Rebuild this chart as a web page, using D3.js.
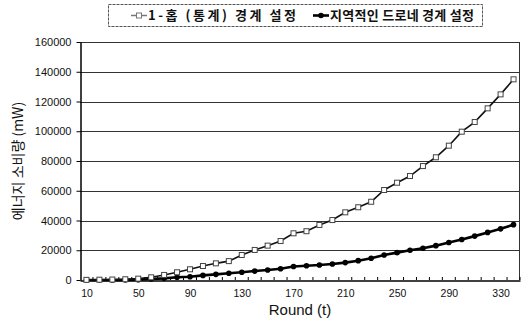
<!DOCTYPE html>
<html>
<head>
<meta charset="utf-8">
<script src="https://cdn.jsdelivr.net/npm/d3@7/dist/d3.min.js"></script>
<style>
  body, html { margin: 0; padding: 0; background: #fff; }
  svg { display: block; }
  .tick text { font-family: "Liberation Sans", Arial, sans-serif; fill: #111; }
  .ko { font-family: "Noto Sans CJK KR", sans-serif; fill: #111; }
</style>
</head>
<body>
<svg width="521" height="320"></svg>
<script>
  // rounds 10..340
  var rounds = [10, 20, 30, 40, 50, 60, 70, 80, 90, 100, 110, 120, 130, 140, 150, 160, 170,
                180, 190, 200, 210, 220, 230, 240, 250, 260, 270, 280, 290, 300, 310, 320, 330, 340];

  // 1-hop boundary setting (hollow squares)
  var hopValues = [100, 200, 300, 500, 900, 1800, 3400, 5200, 7200, 9400, 11200, 12700, 16800,
                   20200, 23100, 26200, 31400, 32800, 37000, 40300, 45500, 48900, 52600, 60500,
                   65400, 69900, 76600, 82500, 90300, 99700, 106200, 115400, 124800, 134900];

  // local Delaunay boundary setting (filled dots)
  var delaunayValues = [0, 0, 50, 100, 200, 700, 1100, 1800, 2200, 3100, 3800, 4500, 5200,
                        6000, 6700, 7600, 9100, 9600, 10100, 10800, 11700, 13000, 14600, 16800,
                        18400, 20000, 21300, 23100, 25200, 27200, 29500, 32000, 34400, 37200];

  var xTickLabels = [10, 50, 90, 130, 170, 210, 250, 290, 330];
  var yTickValues = [0, 20000, 40000, 60000, 80000, 100000, 120000, 140000, 160000];

  var seriesNames = ['1-홉 (통계) 경계 설정', '지역적인 드로네 경계 설정'];

  var svg = d3.select('svg');
  var plotLeft = 80, plotRight = 520, plotTop = 42, plotBottom = 280;

  var x = d3.scalePoint().domain(rounds).range([plotLeft, plotRight]).padding(0.5);
  var y = d3.scaleLinear().domain([0, 160000]).range([plotBottom, plotTop]);

  // horizontal grid
  svg.append('g')
    .selectAll('line')
    .data(yTickValues.slice(1))
    .join('line')
      .attr('x1', plotLeft).attr('x2', plotRight)
      .attr('y1', function (d) { return Math.round(y(d)) + 0.5; })
      .attr('y2', function (d) { return Math.round(y(d)) + 0.5; })
      .attr('stroke', '#333').attr('stroke-width', 1);

  // right border
  svg.append('line')
    .attr('x1', plotRight - 0.5).attr('x2', plotRight - 0.5)
    .attr('y1', plotTop).attr('y2', plotBottom)
    .attr('stroke', '#333');

  // axes
  var yAxis = d3.axisLeft(y).tickValues(yTickValues).tickFormat(d3.format('d'))
    .tickSizeInner(4).tickSizeOuter(0).tickPadding(5);
  svg.append('g')
    .attr('transform', 'translate(' + (plotLeft + 0.5) + ',0)')
    .call(yAxis)
    .call(function (g) {
      g.selectAll('text').attr('font-size', 11);
      g.select('.domain').attr('stroke', '#000').attr('stroke-width', 1.5);
    });

  var xAxis = d3.axisBottom(x).tickValues(xTickLabels).tickSize(0).tickPadding(9);
  svg.append('g')
    .attr('transform', 'translate(0,' + (plotBottom + 0.5) + ')')
    .call(xAxis)
    .call(function (g) {
      g.selectAll('text').attr('font-size', 10.5);
      g.select('.domain').attr('stroke', '#000').attr('stroke-width', 1.5);
    });

  // small category ticks on the x axis
  svg.append('g')
    .selectAll('line')
    .data(rounds)
    .join('line')
      .attr('x1', function (d) { return x(d) + x.step() / 2; })
      .attr('x2', function (d) { return x(d) + x.step() / 2; })
      .attr('y1', plotBottom).attr('y2', plotBottom - 3)
      .attr('stroke', '#000');

  // lines
  var line = d3.line()
    .x(function (d, i) { return x(rounds[i]); })
    .y(function (d) { return y(d); });

  svg.append('path')
    .datum(delaunayValues)
    .attr('fill', 'none').attr('stroke', '#000').attr('stroke-width', 2.6)
    .attr('d', line);

  svg.append('path')
    .datum(hopValues)
    .attr('fill', 'none').attr('stroke', '#111').attr('stroke-width', 1.6)
    .attr('d', line);

  // markers
  svg.append('g')
    .selectAll('circle')
    .data(delaunayValues)
    .join('circle')
      .attr('cx', function (d, i) { return x(rounds[i]); })
      .attr('cy', function (d) { return y(d); })
      .attr('r', 2.8)
      .attr('fill', '#000');

  svg.append('g')
    .selectAll('rect')
    .data(hopValues)
    .join('rect')
      .attr('x', function (d, i) { return x(rounds[i]) - 2.5; })
      .attr('y', function (d) { return y(d) - 2.5; })
      .attr('width', 5).attr('height', 5)
      .attr('fill', '#fff').attr('stroke', '#444').attr('stroke-width', 1);

  // axis titles
  svg.append('text')
    .attr('class', 'ko')
    .attr('transform', 'translate(23,161) rotate(-90)')
    .attr('text-anchor', 'middle')
    .attr('font-size', 14)
    .text('에너지 소비량 (mW)');

  svg.append('text')
    .attr('x', 300).attr('y', 315)
    .attr('text-anchor', 'middle')
    .attr('font-family', '"Liberation Sans", Arial, sans-serif')
    .attr('font-size', 15)
    .attr('fill', '#111')
    .text('Round (t)');

  // legend
  var legend = svg.append('g');
  legend.append('rect')
    .attr('x', 108.5).attr('y', 4.5).attr('width', 374).attr('height', 22)
    .attr('fill', '#fff').attr('stroke', '#555').attr('stroke-width', 1)
    .attr('stroke-dasharray', '3,1');

  var items = [
    { name: seriesNames[0], x0: 131, width: 148, hollow: true },
    { name: seriesNames[1], x0: 313, width: 144, hollow: false }
  ];
  items.forEach(function (it) {
    var g = legend.append('g').attr('transform', 'translate(' + it.x0 + ',15.5)');
    g.append('line').attr('x1', 0).attr('x2', 16).attr('y1', 0).attr('y2', 0)
      .attr('stroke', it.hollow ? '#777' : '#000').attr('stroke-width', it.hollow ? 1.5 : 2.6);
    if (it.hollow) {
      g.append('rect').attr('x', 5.5).attr('y', -2.5).attr('width', 5).attr('height', 5)
        .attr('fill', '#fff').attr('stroke', '#777');
    } else {
      g.append('circle').attr('cx', 8).attr('cy', 0).attr('r', 2.8).attr('fill', '#000');
    }
    g.append('text')
      .attr('class', 'ko')
      .attr('x', 17).attr('y', 0).attr('dy', '0.35em')
      .attr('font-size', 13).attr('font-weight', 'bold')
      .attr('textLength', it.width).attr('lengthAdjust', 'spacing')
      .text(it.name);
  });
</script>
</body>
</html>
